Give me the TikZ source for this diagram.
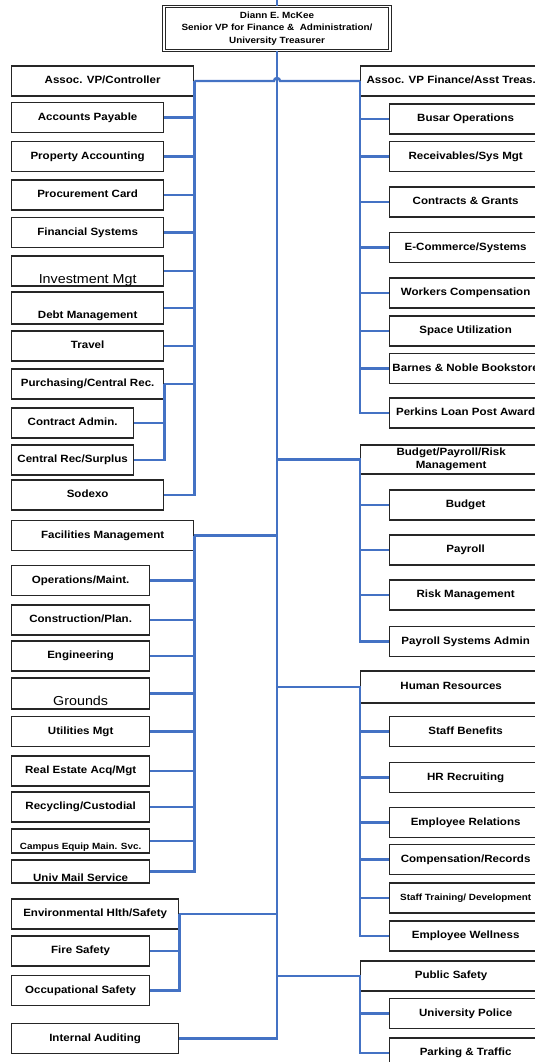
\documentclass[tikz,border=0pt]{standalone}
\usepackage{fontspec}
\setmainfont{Liberation Sans}[FakeStretch=1.1]
\usepackage{tikz}
\usetikzlibrary{positioning,calc}
\definecolor{linkblue}{HTML}{4472C4}
\definecolor{boxgray}{HTML}{262626}
\newcommand{\orgfont}{\fontsize{10.5}{13}\selectfont\bfseries}
\newcommand{\orgsmall}{\fontsize{9}{11}\selectfont\bfseries}
\newcommand{\orgbig}{\fontsize{13}{15}\selectfont}
\newcommand{\orgtop}{\fontsize{9}{12.5}\selectfont\bfseries}

\begin{document}
\begin{tikzpicture}[x=1pt,y=-1pt,
  link/.style={draw=linkblue,line width=2.4pt},
  every edge/.style={link},
  box node/.style={rectangle,draw=boxgray,line width=1.3pt,inner sep=0pt,
    anchor=west,minimum height=30pt,font=\orgfont},
  sub node/.style={box node,minimum width=#1,text height=8pt,text depth=2.5pt}]

  \useasboundingbox (0,0) rectangle (535,1062);

  \node[draw=boxgray,double,double distance=1.5pt,line width=0.9pt,inner sep=0pt,
    minimum width=226pt,minimum height=44pt,align=center,font=\orgtop]
    (pres) at (277,28.5) {Diann E. McKee\\Senior VP for Finance \& \ Administration/\\University Treasurer};

  \node[sub node=182] (ctrl) at (11,81) {Assoc. VP/Controller};
  \node[sub node=152] (ap) at (11,117.5) {Accounts Payable};
  \node[sub node=152] (propacc) at (11,156.5) {Property Accounting};
  \node[sub node=152] (pcard) at (11,195) {Procurement Card};
  \node[sub node=152] (finsys) at (11,232.5) {Financial Systems};
  \node[sub node=152,font=\orgbig,text height=27pt,text depth=3pt] (invest) at (11,271) {Investment Mgt};
  \node[sub node=152,minimum height=32pt,text height=26pt,text depth=6pt] (debt) at (11,308) {Debt Management};
  \node[sub node=152] (travel) at (11,346) {Travel};
  \node[sub node=152] (purch) at (11,384) {Purchasing/Central Rec.};
  \node[sub node=122] (cadmin) at (11,423) {Contract Admin.};
  \node[sub node=122] (crec) at (11,460) {Central Rec/Surplus};
  \node[sub node=152] (sodexo) at (11,495) {Sodexo};

  \node[sub node=182] (facil) at (11,535.5) {Facilities Management};
  \node[sub node=138] (opsm) at (11,580.5) {Operations/Maint.};
  \node[sub node=138] (constr) at (11,620) {Construction/Plan.};
  \node[sub node=138] (engin) at (11,656) {Engineering};
  \node[sub node=138,font=\orgbig,minimum height=31pt,text height=27pt,text depth=4pt] (grounds) at (11,693.5) {Grounds};
  \node[sub node=138] (utilm) at (11,731.5) {Utilities Mgt};
  \node[sub node=138] (realest) at (11,771) {Real Estate Acq/Mgt};
  \node[sub node=138] (recyc) at (11,807) {Recycling/Custodial};
  \node[sub node=138,font=\orgsmall,minimum height=24pt,text height=20pt,text depth=4pt] (campus) at (11,841) {Campus Equip Main. Svc.};
  \node[sub node=138,minimum height=23pt,text height=21.5pt,text depth=1.5pt] (mail) at (11,871.5) {Univ Mail Service};

  \node[sub node=167] (ehs) at (11,914) {Environmental Hlth/Safety};
  \node[sub node=138] (fire) at (11,951) {Fire Safety};
  \node[sub node=138] (occup) at (11,990.5) {Occupational Safety};
  \node[sub node=167] (audit) at (11,1038.5) {Internal Auditing};

  \node[sub node=181] (treas) at (360,81) {Assoc. VP Finance/Asst Treas.};
  \node[sub node=152] (busar) at (389,119) {Busar Operations};
  \node[sub node=152] (recv) at (389,156.5) {Receivables/Sys Mgt};
  \node[sub node=152] (grants) at (389,202) {Contracts \& Grants};
  \node[sub node=152] (ecom) at (389,247.5) {E-Commerce/Systems};
  \node[sub node=152] (workc) at (389,293) {Workers Compensation};
  \node[sub node=152] (space) at (389,331) {Space Utilization};
  \node[sub node=152] (bnoble) at (389,368.5) {Barnes \& Noble Bookstore};
  \node[sub node=152] (perkins) at (389,413) {Perkins Loan Post Award};

  \node[box node,minimum width=181pt,minimum height=29pt,align=center] (bpr) at (360,459.5) {Budget/Payroll/Risk\\Management};
  \node[sub node=152] (budget) at (389,505) {Budget};
  \node[sub node=152] (payroll) at (389,550) {Payroll};
  \node[sub node=152] (riskm) at (389,595) {Risk Management};
  \node[sub node=152] (psadmin) at (389,641.5) {Payroll Systems Admin};

  \node[sub node=181,minimum height=32pt] (hr) at (360,687) {Human Resources};
  \node[sub node=152] (benefits) at (389,731.5) {Staff Benefits};
  \node[sub node=152] (recruit) at (389,777.5) {HR Recruiting};
  \node[sub node=152] (emprel) at (389,822.5) {Employee Relations};
  \node[sub node=152] (comprec) at (389,859.5) {Compensation/Records};
  \node[sub node=152,font=\orgsmall] (training) at (389,898) {Staff Training/ Development};
  \node[sub node=152] (wellness) at (389,936) {Employee Wellness};

  \node[sub node=181] (pubsafe) at (360,976) {Public Safety};
  \node[sub node=152] (police) at (389,1013.5) {University Police};
  \node[sub node=152] (parking) at (389,1053) {Parking \& Traffic};

  \draw[link] (pres.north) -- ++(0,-10);
  \draw[link] (pres.south) -- (pres.south |- audit.east) -- (audit.east);
  \draw[link] (ctrl.east) -- ($(ctrl.east -| pres.south)+(-3,0)$)
    arc[start angle=180,end angle=360,radius=3] -- (treas.west);

  \draw[link] (ctrl.east) -- (ctrl.east |- sodexo.east) -- (sodexo.east);
  \draw[link] (purch.east) -- (purch.east |- crec.east) -- (crec.east);
  \draw[link] (facil.east) -- (facil.east -| pres.south);
  \draw[link] (facil.east) -- (facil.east |- mail.east) -- (mail.east);
  \draw[link] (ehs.east) -- (ehs.east -| pres.south);
  \draw[link] (ehs.east) -- (ehs.east |- occup.east) -- (occup.east);

  \draw[link] (treas.west) -- (treas.west |- perkins.west) -- (perkins.west);
  \draw[link] (bpr.west -| pres.south) -- (bpr.west) -- (bpr.west |- psadmin.west) -- (psadmin.west);
  \draw[link] (hr.west -| pres.south) -- (hr.west) -- (hr.west |- wellness.west) -- (wellness.west);
  \draw[link] (pubsafe.west -| pres.south) -- (pubsafe.west) -- (pubsafe.west |- parking.west) -- (parking.west);

  \path
    (ap.east) edge (ap.east -| ctrl.east)
    (propacc.east) edge (propacc.east -| ctrl.east)
    (pcard.east) edge (pcard.east -| ctrl.east)
    (finsys.east) edge (finsys.east -| ctrl.east)
    (invest.east) edge (invest.east -| ctrl.east)
    (debt.east) edge (debt.east -| ctrl.east)
    (travel.east) edge (travel.east -| ctrl.east)
    (purch.east) edge (purch.east -| ctrl.east)
    (cadmin.east) edge (cadmin.east -| purch.east)
    (opsm.east) edge (opsm.east -| facil.east)
    (constr.east) edge (constr.east -| facil.east)
    (engin.east) edge (engin.east -| facil.east)
    (grounds.east) edge (grounds.east -| facil.east)
    (utilm.east) edge (utilm.east -| facil.east)
    (realest.east) edge (realest.east -| facil.east)
    (recyc.east) edge (recyc.east -| facil.east)
    (campus.east) edge (campus.east -| facil.east)
    (fire.east) edge (fire.east -| ehs.east);

  \path
    (busar.west) edge (busar.west -| treas.west)
    (recv.west) edge (recv.west -| treas.west)
    (grants.west) edge (grants.west -| treas.west)
    (ecom.west) edge (ecom.west -| treas.west)
    (workc.west) edge (workc.west -| treas.west)
    (space.west) edge (space.west -| treas.west)
    (bnoble.west) edge (bnoble.west -| treas.west)
    (budget.west) edge (budget.west -| bpr.west)
    (payroll.west) edge (payroll.west -| bpr.west)
    (riskm.west) edge (riskm.west -| bpr.west)
    (benefits.west) edge (benefits.west -| hr.west)
    (recruit.west) edge (recruit.west -| hr.west)
    (emprel.west) edge (emprel.west -| hr.west)
    (comprec.west) edge (comprec.west -| hr.west)
    (training.west) edge (training.west -| hr.west)
    (police.west) edge (police.west -| pubsafe.west);
\end{tikzpicture}
\end{document}
